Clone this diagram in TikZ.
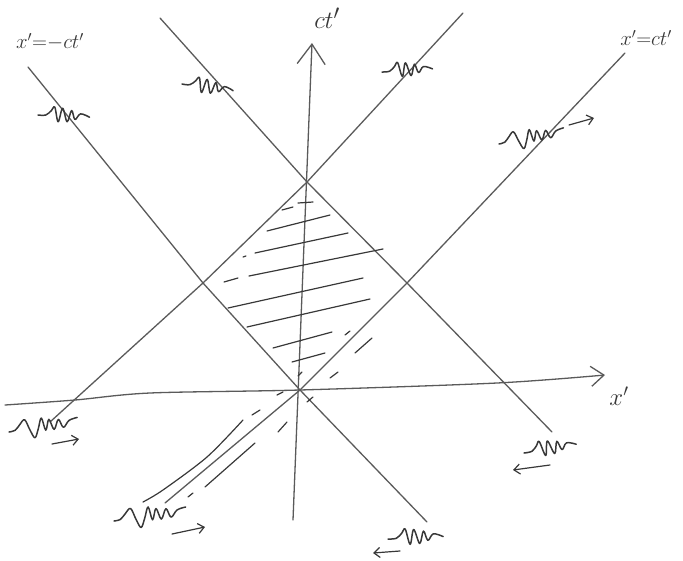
\documentclass[tikz,border=0pt]{standalone}
\usetikzlibrary{arrows.meta}
\definecolor{ink}{HTML}{5A5A5A}
\definecolor{dink}{HTML}{383838}
\begin{document}
\begin{tikzpicture}[x=1pt,y=-1pt,
  wline/.style={draw=ink, line width=1.3pt, line cap=round, line join=round},
  hatch/.style={draw=dink, line width=1.2pt, line cap=round},
  wig/.style={draw=dink, line width=1.5pt, line cap=round, line join=round},
  sarrow/.style={draw=dink, line width=1.2pt, line cap=round, -{Straight Barb[length=6pt,width=10pt]}},
  lab/.style={text=dink, inner sep=0pt},
  wA/.pic={\path[wig] plot[smooth, tension=0.6] coordinates {(0,0) (7,0) (12,-4) (15,-7) (18,6) (22,-6) (26,6) (30,-4) (33,4) (38,-1) (46,2)};},
  wB/.pic={\path[wig] plot[smooth, tension=0.6] coordinates {(0,0) (6,-1) (11,-6) (16,-10) (20,0) (24,8) (28,0) (32,-10) (35,2) (39,-8) (43,2) (48,-7) (52,1) (58,-5) (66,-7)};}
]
\useasboundingbox (0,0) rectangle (683,560);
% key points
\coordinate (O) at (300,390);
\coordinate (T) at (307,182);
\coordinate (L) at (203,283);
\coordinate (R) at (407,283);
% light lines
\path[wline] (160,18) -- (T) -- (R) -- (552,432);
\path[wline] (463,13) -- (T) -- (L) -- (50,422);
\path[wline] (28,67) -- (L) -- (O) -- (427,522);
\path[wline] (625,53) -- (R) -- (O) -- (165,503);
% axes
\path[wline, -{Straight Barb[length=20pt,width=28pt]}] (293,520) -- (312,43);
\path[wline, -{Straight Barb[length=13pt,width=20pt]}] plot[smooth] coordinates {(5,405) (75,400) (150,393) (300,390) (497,383) (605,375)};
% hatching
\path[hatch] (282,210) -- (293,207);
\path[hatch] (298,203) -- (313,202);
\path[hatch] (267,231) -- (330,215);
\path[hatch] (243,257) -- (246,256);
\path[hatch] (255,253) -- (348,233);
\path[hatch] (224,282) -- (238,278);
\path[hatch] (249,276) -- (383,249);
\path[hatch] (228,308) -- (363,278);
\path[hatch] (247,327) -- (370,299);
\path[hatch] (273,348) -- (332,332);
\path[hatch] (345,335) -- (350,331);
\path[hatch] (292,362) -- (325,353);
\path[hatch] (298,376) -- (302,372);
\path[hatch] (355,353) -- (372,338);
\path[hatch] (330,378) -- (338,372);
% double lines along lower light cone
\path[hatch] plot[smooth] coordinates {(143,502) (163,490) (207,457) (243,420)};
\path[hatch] (252,415) -- (260,410);
\path[hatch] (277,395) -- (283,392);
\path[hatch] (188,497) -- (193,493);
\path[hatch] (205,487) -- (255,443);
\path[hatch] (278,432) -- (287,422);
\path[hatch] (307,402) -- (313,397);
% wiggles
\pic[scale=1.12] at (38,115) {wA};
\pic[rotate=-5, scale=1.12] at (182,84) {wA};
\pic[rotate=6, scale=1.1] at (382,72) {wA};
\pic[rotate=8, scale=1.0] at (499,144) {wB};
\path[sarrow] (569,125) -- (594,118);
\pic[rotate=6, scale=1.05] at (9,432) {wB};
\path[sarrow] (52,444) -- (79,439);
\pic[rotate=5, scale=1.1] at (114,521) {wB};
\path[sarrow] (172,534) -- (205,527);
\pic[rotate=12, scale=1.15] at (524,453) {wA};
\path[sarrow] (550,465) -- (513,470);
\pic[rotate=5, scale=1.2] at (388,539) {wA};
\path[sarrow] (400,551) -- (373,553);
% labels
\node[lab, font=\fontsize{28}{30}\selectfont] (ctl) at (327,18) {$ct'$};
\node[lab, font=\fontsize{22}{24}\selectfont] (lm) at (50,42) {$x'{=}{-}ct'$};
\node[lab, font=\fontsize{22}{24}\selectfont] (lp) at (646,38) {$x'{=}ct'$};
\node[lab, font=\fontsize{26}{28}\selectfont] (xl) at (619,396) {$x'$};
\end{tikzpicture}
\end{document}
